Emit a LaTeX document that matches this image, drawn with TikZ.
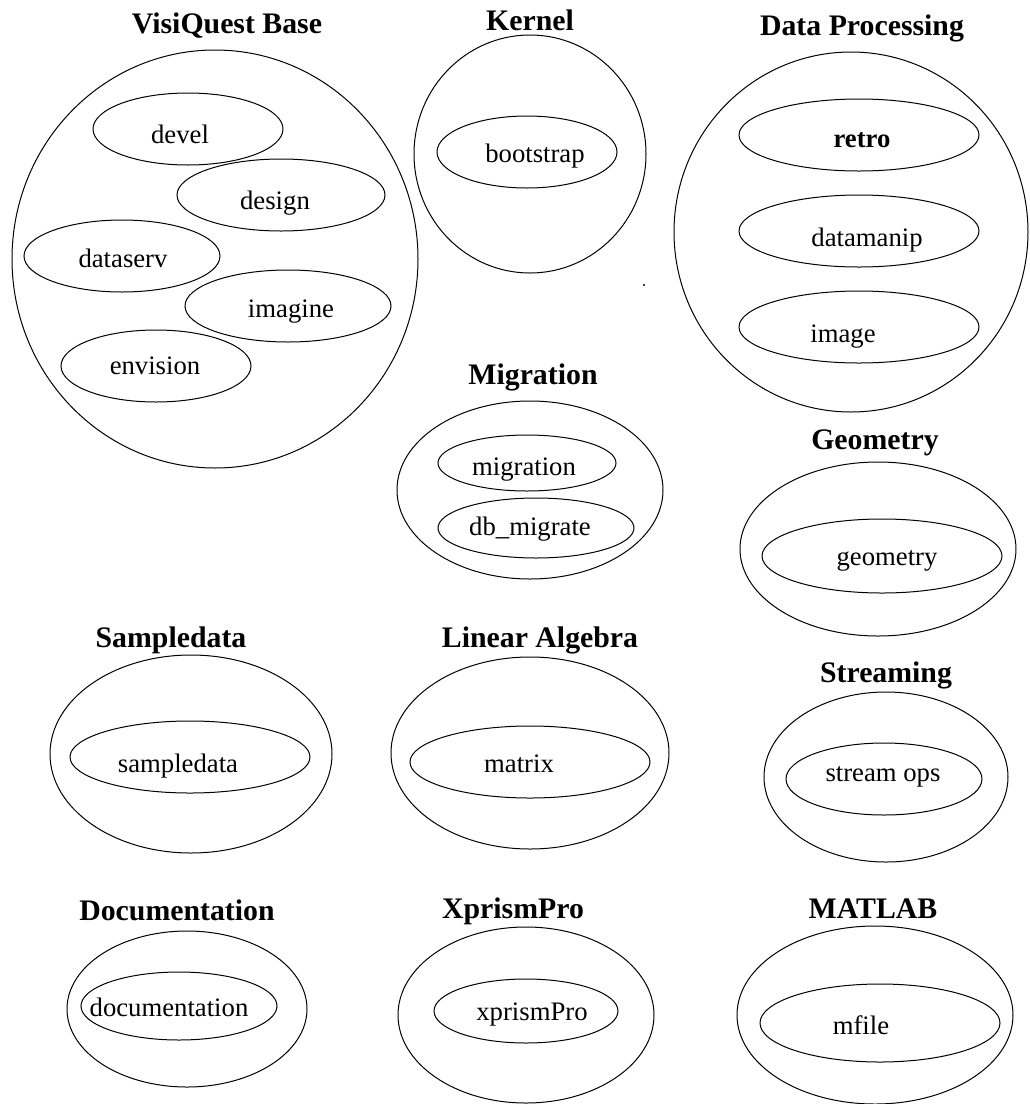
\documentclass[tikz,border=0pt]{standalone}
\usepackage{fontspec}
\setmainfont{Liberation Serif}
\usetikzlibrary{shapes.geometric}
\tikzset{
  shell/.style={draw, ellipse, inner sep=0pt, line width=1pt},
  lbl/.style={anchor=base, inner sep=0pt, font=\fontsize{26.7}{30}\selectfont},
  boldlbl/.style={anchor=base, inner sep=0pt, font=\fontsize{26.7}{30}\selectfont\bfseries},
  grouptitle/.style={anchor=base, inner sep=0pt, font=\fontsize{29.8}{34}\selectfont\bfseries},
}
\begin{document}
\begin{tikzpicture}[x=1pt,y=-1pt]
\useasboundingbox (0,0) rectangle (1029,1104);

% ---------- VisiQuest Base ----------
\node[grouptitle] (tvq) at (227,33) {VisiQuest Base};
\node[shell, minimum width=406pt, minimum height=418pt] (vq) at (215,259) {};
\node[shell, minimum width=190pt, minimum height=72pt] (edevel) at (188,129) {};
\node[lbl] (devel) at (180,143) {devel};
\node[shell, minimum width=208pt, minimum height=72pt] (edesign) at (281,195) {};
\node[lbl] (design) at (275,209) {design};
\node[shell, minimum width=196pt, minimum height=72pt] (edataserv) at (122,256) {};
\node[lbl] (dataserv) at (123,267) {dataserv};
\node[shell, minimum width=206pt, minimum height=72pt] (eimagine) at (288,306) {};
\node[lbl] (imagine) at (291,317) {imagine};
\node[shell, minimum width=190pt, minimum height=72pt] (eenvision) at (156,366) {};
\node[lbl] (envision) at (155,374) {envision};

% ---------- Kernel ----------
\node[grouptitle] (tkern) at (530,30) {Kernel};
\node[shell, minimum width=232pt, minimum height=238pt] (kern) at (530,154) {};
\node[shell, minimum width=180pt, minimum height=72pt] (eboot) at (527,152) {};
\node[lbl] (boot) at (535,162) {bootstrap};

% stray point
\node[circle, fill, inner sep=0pt, minimum size=2.2pt] (dot) at (644,285) {};

% ---------- Data Processing ----------
\node[grouptitle] (tdp) at (862,35) {Data Processing};
\node[shell, minimum width=354pt, minimum height=360pt] (dp) at (851,232) {};
\node[shell, minimum width=240pt, minimum height=72pt] (eretro) at (859,135) {};
\node[boldlbl] (retro) at (862,147) {retro};
\node[shell, minimum width=240pt, minimum height=72pt] (edatamanip) at (859,231) {};
\node[lbl] (datamanip) at (867,246) {datamanip};
\node[shell, minimum width=240pt, minimum height=72pt] (eimage) at (859,327) {};
\node[lbl] (image) at (843,342) {image};

% ---------- Migration ----------
\node[grouptitle] (tmig) at (533,384) {Migration};
\node[shell, minimum width=266pt, minimum height=178pt] (mig) at (530,490) {};
\node[shell, minimum width=178pt, minimum height=56pt] (emigration) at (527,463) {};
\node[lbl] (migration) at (524,475) {migration};
\node[shell, minimum width=196pt, minimum height=60pt] (edbm) at (536,528) {};
\node[lbl] (dbm) at (530,535) {db\_migrate};

% ---------- Geometry ----------
\node[grouptitle] (tgeo) at (875,449) {Geometry};
\node[shell, minimum width=276pt, minimum height=174pt] (geo) at (878,549) {};
\node[shell, minimum width=240pt, minimum height=74pt] (egeometry) at (882,556) {};
\node[lbl] (geometry) at (887,565) {geometry};

% ---------- Streaming ----------
\node[grouptitle] (tstr) at (886,682) {Streaming};
\node[shell, minimum width=244pt, minimum height=170pt] (str) at (886,777) {};
\node[shell, minimum width=196pt, minimum height=72pt] (estream) at (884,779) {};
\node[lbl] (stream) at (883,781) {stream ops};

% ---------- Sampledata ----------
\node[grouptitle] (tsd) at (171,647) {Sampledata};
\node[shell, minimum width=282pt, minimum height=198pt] (sd) at (191,754) {};
\node[shell, minimum width=240pt, minimum height=72pt] (esample) at (190,757) {};
\node[lbl] (sample) at (178,772) {sampledata};

% ---------- Linear Algebra ----------
\node[grouptitle] (tla) at (540,647) {Linear Algebra};
\node[shell, minimum width=278pt, minimum height=192pt] (la) at (530,753) {};
\node[shell, minimum width=240pt, minimum height=72pt] (ematrix) at (530,762) {};
\node[lbl] (matrix) at (519,772) {matrix};

% ---------- Documentation ----------
\node[grouptitle] (tdoc) at (177,920) {Documentation};
\node[shell, minimum width=240pt, minimum height=156pt] (doc) at (187,1009) {};
\node[shell, minimum width=196pt, minimum height=68pt] (edocu) at (179,1006) {};
\node[lbl] (docu) at (169,1016) {documentation};

% ---------- XprismPro ----------
\node[grouptitle] (txp) at (513,918) {XprismPro};
\node[shell, minimum width=256pt, minimum height=176pt] (xp) at (526,1015) {};
\node[shell, minimum width=184pt, minimum height=64pt] (exprism) at (526,1011) {};
\node[lbl] (xprism) at (532,1020) {xprismPro};

% ---------- MATLAB ----------
\node[grouptitle] (tml) at (873,918) {MATLAB};
\node[shell, minimum width=276pt, minimum height=178pt] (ml) at (875,1015) {};
\node[shell, minimum width=240pt, minimum height=78pt] (emfile) at (880,1023) {};
\node[lbl] (mfile) at (861,1034) {mfile};

\end{tikzpicture}
\end{document}
